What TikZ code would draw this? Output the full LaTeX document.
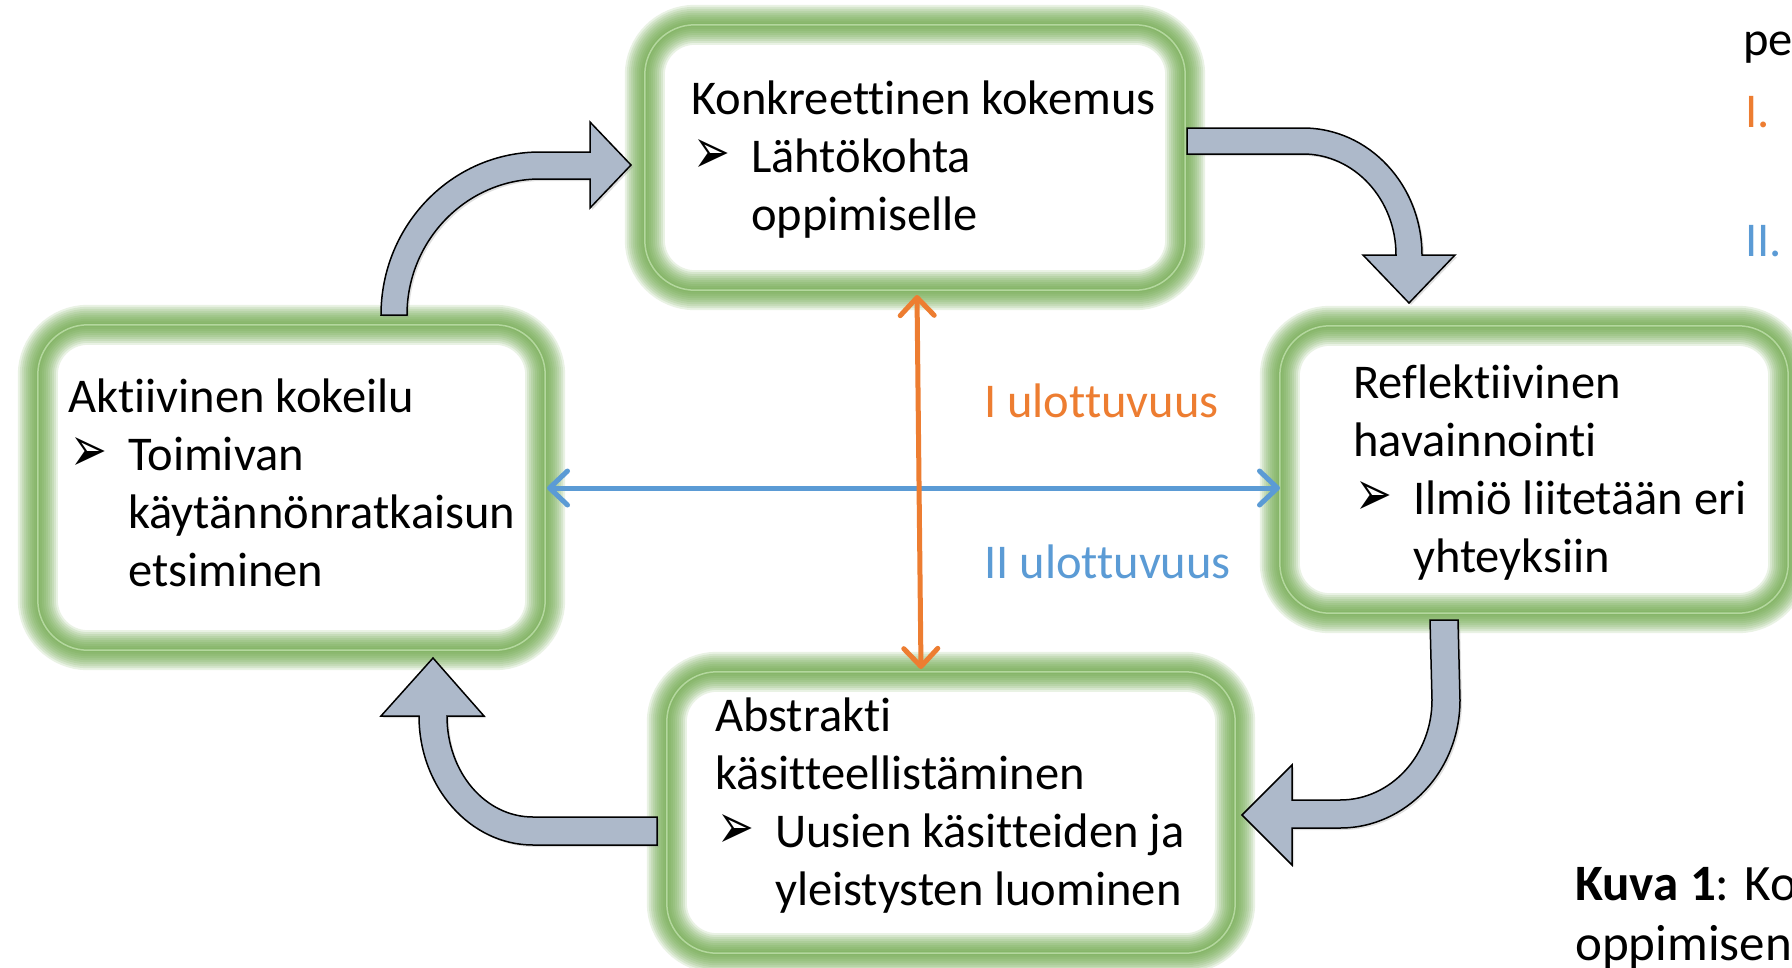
\documentclass[tikz,border=0pt]{standalone}
\usepackage{fontspec}
\setmainfont{Carlito}[Ligatures=NoCommon]
\newfontfamily\merkkifont{DejaVu Sans}
\usetikzlibrary{arrows.meta,shadows}

\definecolor{oranssi}{HTML}{ED7D31}
\definecolor{sininen}{HTML}{5B9BD5}
\definecolor{hehku}{HTML}{68A443}
\definecolor{reuna}{HTML}{B4D79E}
\definecolor{nuolitayte}{HTML}{ADB9CA}

% bullet column and hanging indent
\newcommand{\nuoli}{\makebox[60pt][l]{\hspace{2pt}\raisebox{-1pt}{\merkkifont\fontsize{44}{44}\selectfont\scalebox{1}[1.45]{➢}}}}
\newcommand{\sisennys}{\hspace*{60pt}}

\tikzset{
  laatikko/.style={rectangle, inner sep=0pt},
  teksti/.style={anchor=base west, align=left, inner sep=0pt, font=\fontsize{48.5}{58}\selectfont},
  kaari/.style={fill=nuolitayte, draw=black, line width=1.5pt, line join=miter,
    drop shadow={opacity=0.25, shadow xshift=2pt, shadow yshift=-2pt}},
  ulottuvuus/.style={line width=5pt,
    {Straight Barb[length=18pt,width=34pt,round]}-{Straight Barb[length=18pt,width=34pt,round]}}
}

\begin{document}
\begin{tikzpicture}[x=1pt, y=-1pt]
    \clip (0,0) rectangle (1792,967);
    \fill[white] (0,0) rectangle (1792,967);

    % The four phases
    \node[laatikko, minimum width=540pt, minimum height=265pt] (konk) at (915,157.5) {};
    \node[laatikko, minimum width=508pt, minimum height=287pt] (refl) at (1534,469.5) {};
    \node[laatikko, minimum width=568pt, minimum height=281pt] (abstr) at (951,812.5) {};
    \node[laatikko, minimum width=507pt, minimum height=325pt] (aktiv) at (291.5,487.5) {};

    % Green glow round each box
    \foreach \n in {konk,refl,abstr,aktiv} {
        \foreach \w in {40,36,...,4} {
            \draw[hehku, line width=\w pt, draw opacity=0.14, rounded corners=50pt]
                (\n.north west) rectangle (\n.south east);
        }
        \draw[reuna, line width=1.5pt, rounded corners=50pt] (\n.north west) rectangle (\n.south east);
    }

    % text nodes sit on the baseline of their last line
    \node[teksti] (konkT) at (691,230) {Konkreettinen kokemus\\\nuoli Lähtökohta\\\sisennys oppimiselle};
    \node[teksti] (reflT) at (1353,572) {Reflektiivinen\\havainnointi\\\nuoli Ilmiö liitetään eri\\\sisennys yhteyksiin};
    \node[teksti] (abstrT) at (715,905) {Abstrakti\\käsitteellistäminen\\\nuoli Uusien käsitteiden ja\\\sisennys yleistysten luominen};
    \node[teksti] (aktivT) at (68,586) {Aktiivinen kokeilu\\\nuoli Toimivan\\\sisennys käytännönratkaisun\\\sisennys etsiminen};

    % Curved block arrows of the cycle
    \path[kaari] (381,315) .. controls (381,225) and (452,152) .. (540,152) -- (590,152) -- (590,122)
        -- (631,165) -- (590,208) -- (590,179) -- (540,179)
        .. controls (467,179) and (407,240) .. (407,315) -- cycle;
    \path[kaari] (1187,128) -- (1303,128) .. controls (1369,128) and (1422,185) .. (1422,255)
        -- (1455,255) -- (1409,303) -- (1363,255) -- (1396,255)
        .. controls (1396,199) and (1354,154) .. (1303,154) -- (1187,154) -- cycle;
    \path[kaari] (1430,620) -- (1458,620) -- (1460,700) .. controls (1460,771) and (1406,828) .. (1340,828)
        -- (1292,828) -- (1292,865) -- (1242,815) -- (1292,765) -- (1292,800) -- (1340,800)
        .. controls (1391,800) and (1432,755) .. (1432,700) -- cycle;
    \path[kaari] (657,817) -- (657,845) -- (533,845) .. controls (470,845) and (419,787) .. (419,716)
        -- (381,716) -- (433,658) -- (484,716) -- (447,716)
        .. controls (447,772) and (485,817) .. (533,817) -- cycle;

    % Dimensions
    \coordinate (ulo1a) at (917,295);
    \coordinate (ulo1b) at (921,669);
    \coordinate (ulo2a) at (547,488);
    \coordinate (ulo2b) at (1280,488);
    \draw[ulottuvuus, sininen] (ulo2a) -- (ulo2b);
    \draw[ulottuvuus, oranssi] (ulo1a) -- (ulo1b);
    \node[teksti, text=oranssi] (ulo1) at (984,417) {I ulottuvuus};
    \node[teksti, text=sininen] (ulo2) at (984,578) {II ulottuvuus};

    % Text of the page beside the figure
    \node[teksti] (sivu) at (1743,55) {pe};
    \node[teksti, text=oranssi] (kohta1) at (1745,127) {I.};
    \node[teksti, text=sininen] (kohta2) at (1745,256) {II.};
    \node[teksti, font=\fontsize{51}{60}\selectfont] (kuva) at (1575,960) {\textbf{Kuva 1}: Ko\\oppimisen};
\end{tikzpicture}
\end{document}
